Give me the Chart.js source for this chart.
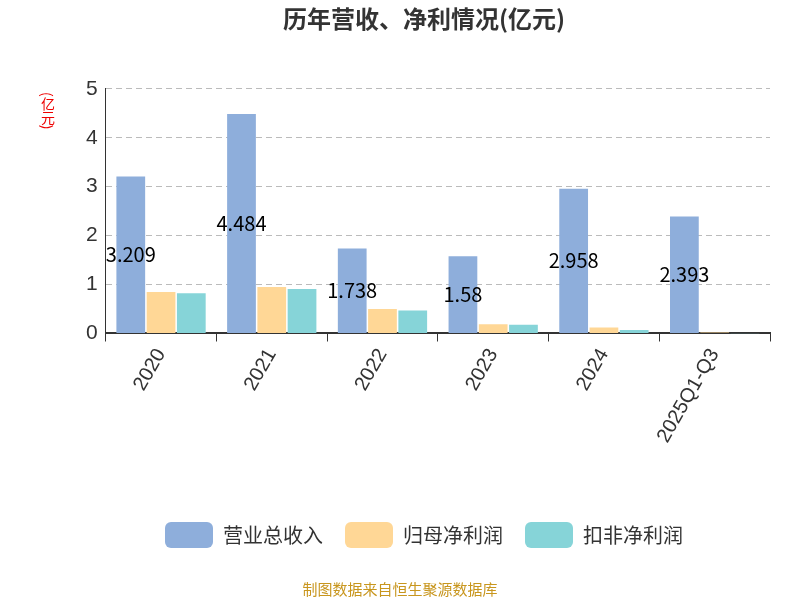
<!DOCTYPE html>
<html lang="zh">
<head>
<meta charset="UTF-8" />
<script src="https://cdn.jsdelivr.net/npm/chart.js"></script>
<style>
  body { margin: 0; background: #fff; font-family: "Noto Sans CJK SC", sans-serif; }
  #box { position: relative; width: 800px; height: 600px; }
  .src { position: absolute; left: 0; width: 800px; top: 578px; text-align: center; font-size: 15px; color: #c8961e; }
  .unit { position: absolute; left: 38px; top: 92px; color: #e00; font-size: 14px; writing-mode: vertical-rl; white-space: nowrap; }
</style>
</head>
<body>
<div id="box">
  <canvas id="c" width="800" height="600"></canvas>
  <div class="unit">(亿元)</div>
  <div class="src">制图数据来自恒生聚源数据库</div>
</div>
<script>
// 数据
const categories = ['2020', '2021', '2022', '2023', '2024', '2025Q1-Q3'];
const revenue    = [3.209, 4.484, 1.738, 1.58, 2.958, 2.393];
const netProfit  = [0.85, 0.95, 0.50, 0.19, 0.12, 0.02];
const deducted   = [0.82, 0.91, 0.47, 0.18, 0.07, 0.005];

// 营收数值标签，画在柱子中部
const valueLabels = {
  id: 'valueLabels',
  afterDatasetsDraw(chart) {
    const ctx = chart.ctx;
    const meta = chart.getDatasetMeta(0);
    ctx.save();
    ctx.font = '20px "Noto Sans CJK SC", sans-serif';
    ctx.fillStyle = '#000';
    ctx.textAlign = 'center';
    ctx.textBaseline = 'middle';
    meta.data.forEach((bar, i) => {
      ctx.fillText(String(revenue[i]), bar.x, (bar.y + bar.base) / 2);
    });
    ctx.restore();
  }
};

new Chart(document.getElementById('c'), {
  type: 'bar',
  data: {
    labels: categories,
    datasets: [
      { label: '营业总收入', data: revenue,   backgroundColor: '#8eaedb' },
      { label: '归母净利润', data: netProfit, backgroundColor: '#ffd796' },
      { label: '扣非净利润', data: deducted,  backgroundColor: '#86d4d8' }
    ]
  },
  options: {
    responsive: false,
    animation: false,
    layout: { padding: { left: 78, right: 30, top: 0, bottom: 42 } },
    datasets: { bar: { categoryPercentage: 0.82, barPercentage: 0.95 } },
    plugins: {
      title: {
        display: true, text: '历年营收、净利情况(亿元)', color: '#333',
        font: { size: 24, weight: 'bold', family: '"Noto Sans CJK SC", sans-serif' },
        padding: { top: 4, bottom: 56 }
      },
      legend: {
        position: 'bottom',
        labels: {
          color: '#333', font: { size: 20, family: '"Noto Sans CJK SC", sans-serif' },
          boxWidth: 48, boxHeight: 26, useBorderRadius: true, borderRadius: 6, padding: 22
        }
      },
      tooltip: { enabled: false }
    },
    scales: {
      x: {
        afterFit(axis) { axis.height += 50; },
        grid: { display: true, drawOnChartArea: false, offset: true, color: '#333', tickLength: 8 },
        border: { color: '#333', width: 2 },
        ticks: { color: '#333', maxRotation: 60, minRotation: 60, font: { size: 20 } }
      },
      y: {
        min: 0, max: 5,
        ticks: { stepSize: 1, color: '#333', font: { size: 21 }, padding: 8 },
        grid: { color: '#bbb', drawTicks: false },
        border: { display: true, color: '#333', width: 1, dash: [6, 4] }
      }
    }
  },
  plugins: [valueLabels]
});
</script>
</body>
</html>
